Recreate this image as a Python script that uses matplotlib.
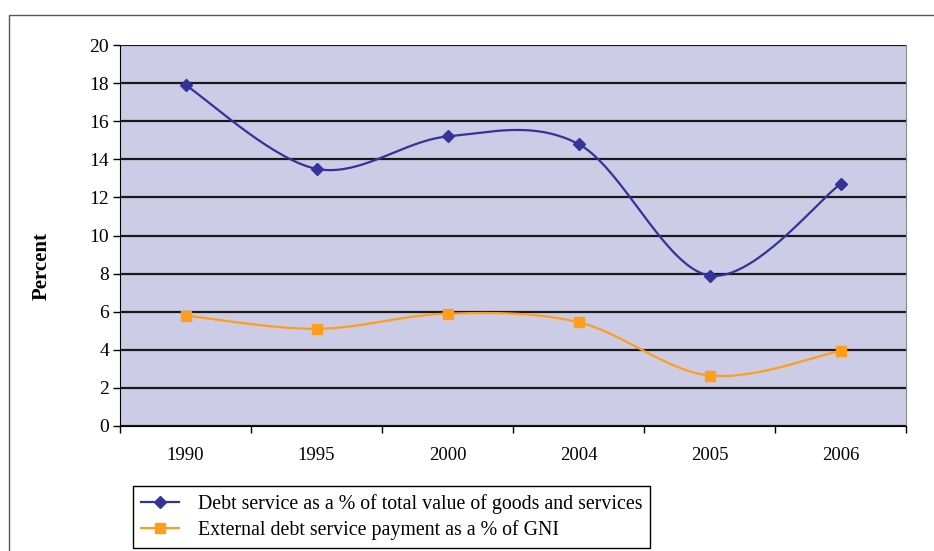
import numpy as np
import matplotlib
matplotlib.use("Agg")
import matplotlib.pyplot as plt
from matplotlib.patches import Rectangle

plt.rcParams['font.family'] = ['Liberation Serif', 'DejaVu Serif']

years = ['1990', '1995', '2000', '2004', '2005', '2006']
debt_goods = [17.9, 13.5, 15.2, 14.8, 7.9, 12.7]
debt_gni = [5.8, 5.1, 5.9, 5.45, 2.65, 3.95]

label_goods = 'Debt service as a % of total value of goods and services'
label_gni = 'External debt service payment as a % of GNI'


def smooth(xs, ys, n=40):
    # Excel-like smoothed line: Catmull-Rom tangents turned into cubic Beziers
    p = np.column_stack([xs, ys]).astype(float)
    pts = []
    for i in range(len(p) - 1):
        p0 = p[i - 1] if i > 0 else p[i]
        p1, p2 = p[i], p[i + 1]
        p3 = p[i + 2] if i + 2 < len(p) else p[i + 1]
        c1 = p1 + (p2 - p0) / 6
        c2 = p2 - (p3 - p1) / 6
        t = np.linspace(0, 1, n)[:, None]
        seg = ((1 - t)**3 * p1 + 3 * (1 - t)**2 * t * c1
               + 3 * (1 - t) * t**2 * c2 + t**3 * p2)
        pts.append(seg if i == 0 else seg[1:])
    pts = np.vstack(pts)
    return pts[:, 0], pts[:, 1]


W, H = 934, 551
fig = plt.figure(figsize=(W / 100, H / 100), dpi=100)

# outer chart frame (cut off on the right and bottom)
fig.patches.append(Rectangle((9 / W, -0.05), 1.2, 1 - 15 / H + 0.05,
                             transform=fig.transFigure, fill=False,
                             edgecolor='#555555', linewidth=1.0))

ax = fig.add_axes([120 / W, 1 - 426 / H, 786 / W, 381 / H])
ax.set_facecolor('#CDCCE7')

x = np.arange(len(years))
blue = '#333399'
orange = '#FF9E1B'

sx, sy = smooth(x, debt_goods)
ax.plot(sx, sy, color=blue, lw=1.6, zorder=3)
ax.plot(x, debt_goods, ls='none', marker='D', ms=6.5, color=blue, zorder=4)

sx, sy = smooth(x, debt_gni)
ax.plot(sx, sy, color=orange, lw=1.6, zorder=3)
ax.plot(x, debt_gni, ls='none', marker='s', ms=6.5, color=orange, zorder=4)

ax.set_xlim(-0.5, len(years) - 0.5)
ax.set_ylim(0, 20)
ax.set_yticks(np.arange(0, 21, 2))
ax.yaxis.grid(True, color='#1a1a1a', lw=1.6)
ax.set_axisbelow(True)

ax.set_xticks(np.arange(-0.5, len(years), 1))
ax.set_xticklabels([])
ax.set_xticks(x, minor=True)
ax.set_xticklabels(years, minor=True)
ax.tick_params(axis='x', which='major', direction='out', length=5, width=1)
ax.tick_params(axis='x', which='minor', length=0, pad=15, labelsize=13.5)
ax.tick_params(axis='y', direction='out', length=5, width=1, labelsize=14, pad=3)

ax.spines['top'].set_visible(False)
ax.spines['right'].set_color('#888888')
ax.spines['left'].set_color('black')
ax.spines['bottom'].set_color('black')

fig.text(42 / W, 1 - 266 / H, 'Percent', rotation=90, ha='center', va='center',
         fontsize=15, fontweight='bold')

h1, = ax.plot([], [], color=blue, marker='D', ms=6.5, lw=1.6)
h2, = ax.plot([], [], color=orange, marker='s', ms=6.5, lw=1.6)
leg = fig.legend([h1, h2], [label_goods, label_gni], loc='lower left',
                 bbox_to_anchor=(133 / W, 1 - 548 / H), fontsize=14.3,
                 frameon=True, fancybox=False, framealpha=1,
                 edgecolor='black', handlelength=1.9, handletextpad=0.95,
                 labelspacing=0.3, borderpad=0.4, borderaxespad=0)
leg.get_frame().set_linewidth(1.0)

fig.savefig('out.png', dpi=100)
